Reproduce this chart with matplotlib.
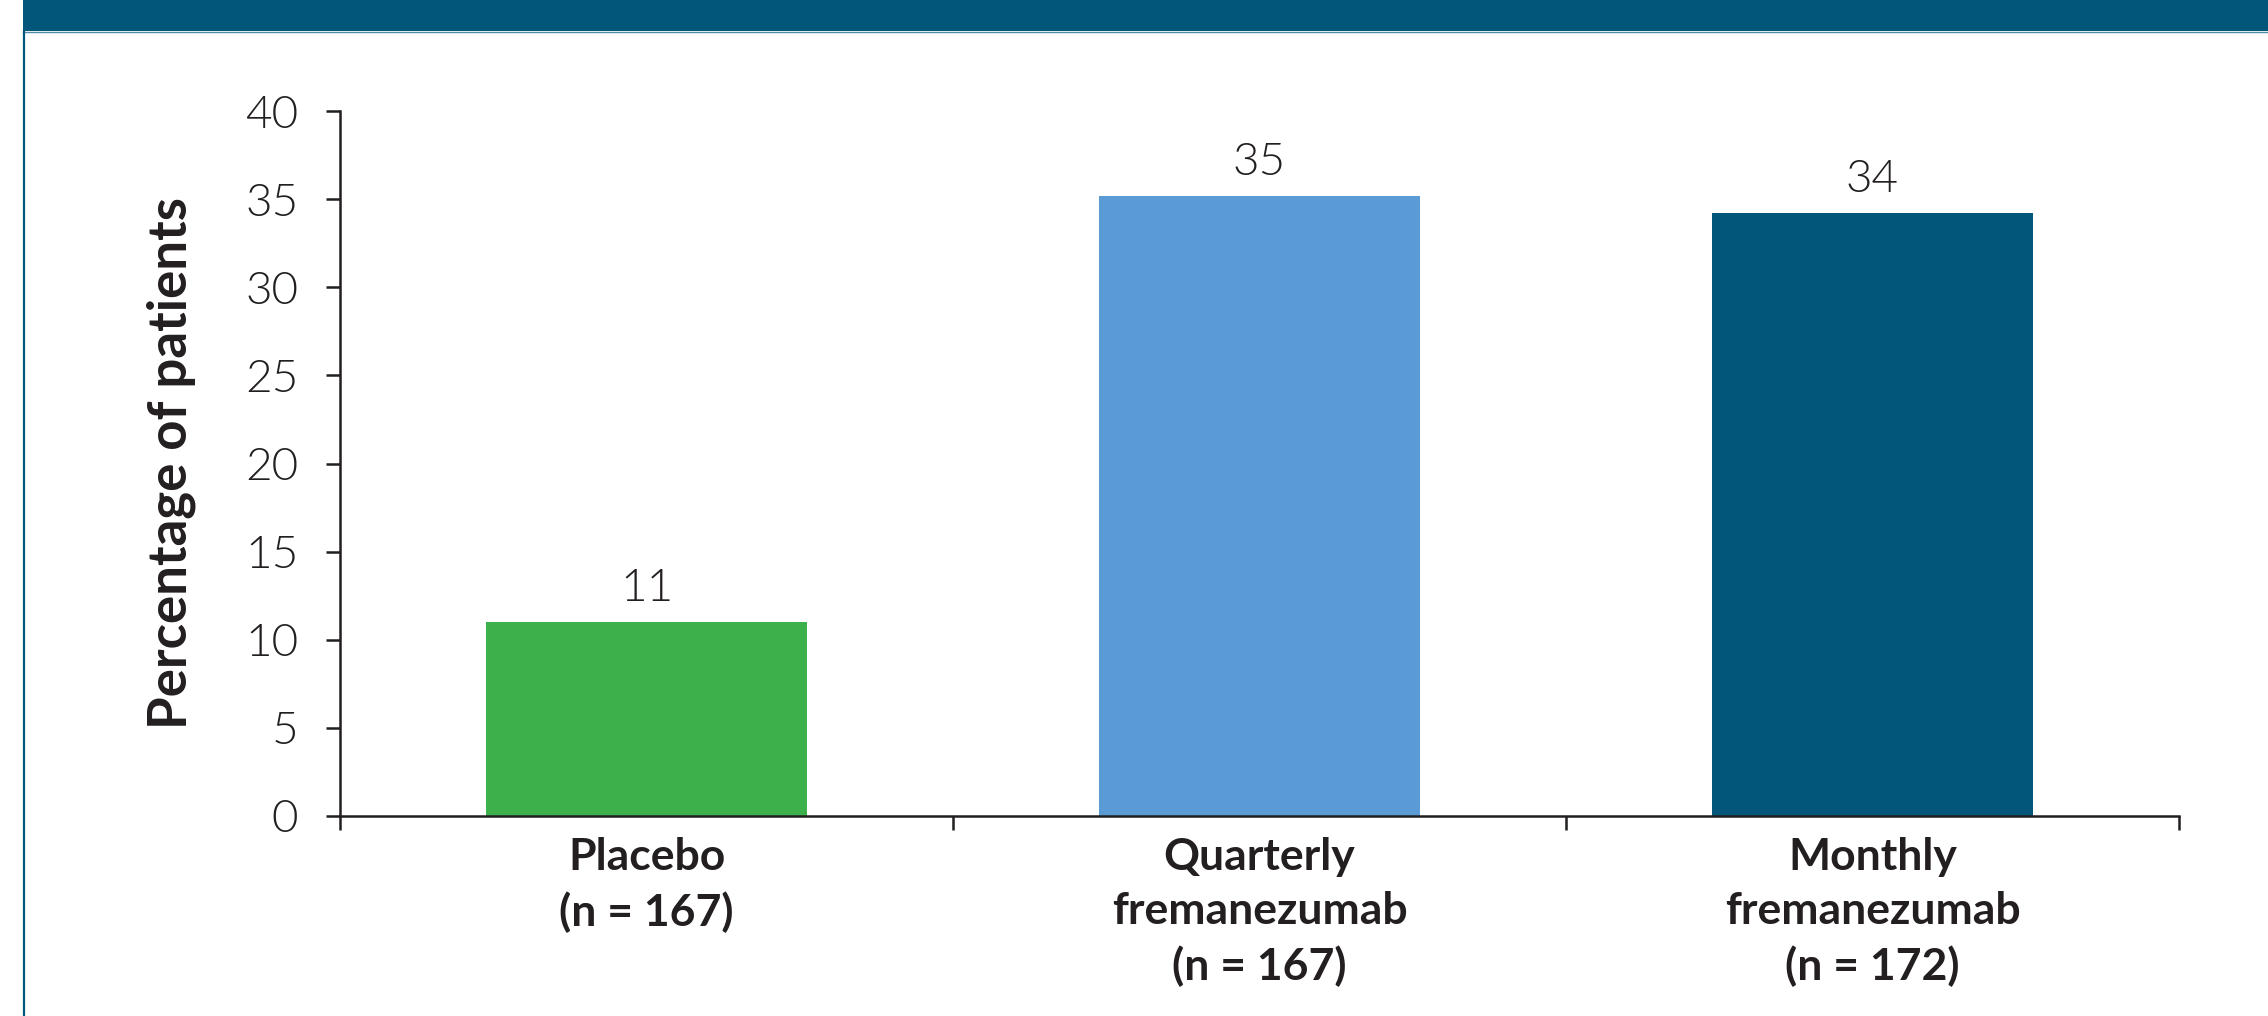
import matplotlib
matplotlib.use("Agg")
import matplotlib.pyplot as plt
from matplotlib.patches import Rectangle
from matplotlib.lines import Line2D

categories = ["Placebo\n(n = 167)", "Quarterly\nfremanezumab\n(n = 167)", "Monthly\nfremanezumab\n(n = 172)"]
values = [11.0, 35.2, 34.2]
value_labels = ["11", "35", "34"]
colors = ["#3CB04A", "#5B9BD5", "#02567A"]
yticks = [0, 5, 10, 15, 20, 25, 30, 35, 40]

W, H = 2268, 1016
fig = plt.figure(figsize=(W / 100, H / 100), dpi=100)
fig.patch.set_facecolor("white")

# banner and border
fig.patches.append(Rectangle((23 / W, 1 - 31 / H), 1 - 23 / W, 31 / H, transform=fig.transFigure,
                             facecolor="#02567A", edgecolor="none", zorder=0))
fig.lines.append(Line2D([23 / W, 1], [1 - 31.5 / H, 1 - 31.5 / H], transform=fig.transFigure,
                        color="#4E8CA6", lw=1.0))
fig.lines.append(Line2D([24 / W, 24 / W], [0, 1 - 31 / H], transform=fig.transFigure,
                        color="#02567A", lw=1.6))

ax = fig.add_axes([340 / W, 1 - 816 / H, (2179 - 340) / W, (816 - 111) / H])
x = [0.5, 1.5, 2.5]
ax.bar(x, values, width=0.525, color=colors, zorder=2)
ax.set_xlim(0, 3)
ax.set_ylim(0, 40)

light = dict(family="Lato", weight=300)

for xi, v, lab in zip(x, values, value_labels):
    ax.annotate(lab, (xi, v), xytext=(0, 15), textcoords="offset points",
                ha="center", va="baseline", fontsize=33, color="#231F20", **light)

for s in ["top", "right"]:
    ax.spines[s].set_visible(False)
for s in ["left", "bottom"]:
    ax.spines[s].set_color("#231F20")
    ax.spines[s].set_linewidth(1.8)
    ax.spines[s].set_zorder(3)

ax.set_yticks(yticks)
ax.set_yticklabels([str(t) for t in yticks], fontsize=33, color="#231F20", **light)
ax.tick_params(axis="y", direction="out", length=10, width=1.8, pad=20, color="#231F20")

ax.set_xticks([0, 1, 2, 3])
ax.set_xticklabels([])
ax.tick_params(axis="x", which="major", direction="out", length=10, width=1.8, color="#231F20")
ax.set_xticks(x, minor=True)
ax.set_xticklabels(categories, minor=True, family="Lato", weight="bold", fontsize=32,
                   color="#231F20", linespacing=1.42)
ax.tick_params(axis="x", which="minor", length=0, pad=15)

fig.text(171 / W, 1 - 463 / H, "Percentage of patients", rotation=90, ha="center", va="center",
         family="Lato", weight="bold", fontsize=38, color="#231F20")

fig.savefig("out.png", dpi=100)
